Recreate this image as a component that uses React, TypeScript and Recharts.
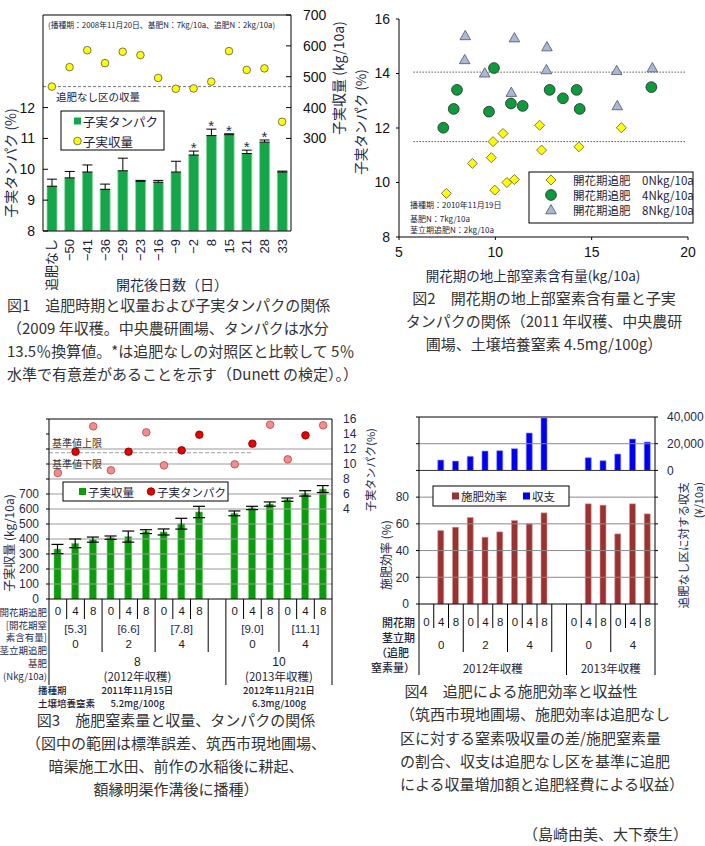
import React from 'react';
import {
  ComposedChart,
  ScatterChart,
  Bar,
  Line,
  Scatter,
  XAxis,
  YAxis,
  ReferenceLine,
  ErrorBar,
} from 'recharts';

const SANS = '"Liberation Sans", "Noto Sans CJK JP", sans-serif';
const JP = '"Noto Sans CJK JP", sans-serif';
const INK = '#1c2238';
const NAVY = '#1d2a4d';

// ---- 図1 data ----
const f1Cats = ['追肥なし', '−50', '−41', '−36', '−29', '−23', '−16', '−9', '−2', '8', '15', '21', '28', '33'];
const f1Protein = [9.45, 9.72, 9.91, 9.35, 9.95, 9.61, 9.58, 9.91, 10.46, 11.09, 11.12, 10.51, 10.88, 9.91];
const f1ProteinSe = [0.23, 0.21, 0.23, 0.17, 0.41, 0.03, 0.06, 0.35, 0.13, 0.21, 0.03, 0.11, 0.07, 0.03];
const f1Yield = [468, 531, 586, 544, 581, 570, 496, 461, 462, 484, 583, 522, 527, 354];
const f1Signif = [false, false, false, false, false, false, false, false, true, true, true, true, true, false];
const f1LeftTicks = [8, 9, 10, 11, 12];
const f1RightTicks = [300, 400, 500, 600, 700];

// ---- 図2 data ----
const n0X = [7.46, 8.81, 9.79, 9.88, 10.4, 9.97, 10.6, 10.99, 12.3, 12.4, 14.34, 16.54];
const n0Y = [9.6, 10.7, 10.91, 11.5, 11.8, 9.72, 10.0, 10.11, 12.1, 11.19, 11.31, 12.01];
const n4X = [7.3, 7.84, 8.01, 9.67, 9.93, 10.81, 11.42, 12.82, 13.51, 14.22, 14.38, 18.1];
const n4Y = [12.01, 12.7, 13.4, 12.6, 14.2, 12.9, 12.81, 13.4, 13.09, 13.4, 12.7, 13.5];
const n8X = [8.44, 8.41, 9.45, 10.99, 10.83, 12.68, 12.65, 16.3, 16.33, 18.15];
const n8Y = [15.38, 14.5, 14.01, 15.3, 13.3, 14.97, 14.13, 14.1, 12.81, 14.2];
const f2Upper = 14.05;
const f2Lower = 11.5;
const f2XTicks = [5, 10, 15, 20];
const f2YTicks = [8, 10, 12, 14, 16];

// ---- 図3 data (16 slots, slot 9 is the gap between years) ----
const topdressN = ['0', '4', '8', '0', '4', '8', '0', '4', '8', '', '0', '4', '8', '0', '4', '8'];
const f3Yield = [333, 371, 396, 409, 416, 449, 447, 502, 580, null, 571, 607, 633, 662, 704, 733];
const f3YieldSe = [31, 29, 17, 11, 37, 13, 20, 36, 38, null, 16, 11, 14, 11, 18, 23];
const f3Protein = [8.8, 11.64, 15.02, 9.16, 11.64, 14.22, 9.82, 11.82, 13.91, null, 9.96, 12.71, 15.24, 10.62, 13.82, 15.16];
const f3Upper = 14;
const f3Lower = 11.5;
const f3Grid = [100, 200, 300, 400, 500, 600, 700, 800, 900, 1000];
const f3LeftTicks = [0, 100, 200, 300, 400, 500, 600, 700, 800, 900, 1000, 1100, 1200];
const f3RightTicks = [4, 6, 8, 10, 12, 14, 16];
const groupStart = [0, 3, 6, 10, 13];
const f3NContent = ['[5.3]', '[6.6]', '[7.8]', '[9.0]', '[11.1]'];
const stemN = ['0', '2', '4', '0', '4'];
const f3Basal = ['8', '10'];
const f3Harvest = ['(2012年収穫)', '(2013年収穫)'];
const f3Sowing = ['2011年11月15日', '2012年11月21日'];
const f3SoilN = ['5.2mg/100g', '6.3mg/100g'];

// ---- 図4 data ----
const f4Eff = [null, 55, 57.5, 64.75, 50, 54, 62.5, 60, 68.25, null, null, 75, 74, 52.5, 75, 67.5];
const f4Balance = [null, 7750, 7000, 10500, 14500, 14750, 16250, 28000, 39250, null, null, 9500, 7250, 12250, 23500, 21250];
const f4Grid = [20, 40, 60, 80, 120];
const f4LeftTicks = [0, 20, 40, 60, 80, 100, 120, 140];
const f4RightTicks = [-100000, -80000, -60000, -40000, -20000, 0, 20000, 40000];
const f4Harvest = ['2012年収穫', '2013年収穫'];

const f1Data = f1Cats.map((cat, i) => ({
  cat,
  protein: f1Protein[i],
  se: [0, f1ProteinSe[i]],
  star: f1Signif[i] ? f1Protein[i] + f1ProteinSe[i] : null,
  yld: f1Yield[i],
}));
const f3Data = topdressN.map((n, i) => ({
  slot: i,
  yld: f3Yield[i],
  se: f3YieldSe[i],
  protein: f3Protein[i],
}));
const f4Data = topdressN.map((n, i) => ({ slot: i, eff: f4Eff[i], bal: f4Balance[i] }));
const pts = (xs: number[], ys: number[]) => xs.map((x, i) => ({ x, y: ys[i] }));

const SLOTS = 16;
const F3L = 49, F3W = 283, F4L = 419, F4W = 236;
const sx = (l: number, w: number, i: number) => l + ((i + 0.5) * w) / SLOTS;
const bx = (l: number, w: number, k: number) => l + (k * w) / SLOTS;

function Tx({ x, y, s = 12, a = 'start', r = 0, w = 400, c = INK, f = JP, children }: any) {
  return (
    <text
      x={x}
      y={y}
      fontSize={s}
      textAnchor={a}
      dominantBaseline="central"
      fontFamily={f}
      fontWeight={w}
      fill={c}
      transform={r ? `rotate(${r} ${x} ${y})` : undefined}
    >
      {children}
    </text>
  );
}

const VTick = (p: any) => (
  <text
    x={p.x}
    y={p.y}
    transform={`rotate(-90 ${p.x} ${p.y})`}
    textAnchor="end"
    dominantBaseline="central"
    fontSize={13}
    fontFamily={SANS}
    fill={INK}
  >
    {p.payload.value}
  </text>
);

const Star = (p: any) =>
  p.value == null ? (
    <g key={p.key} />
  ) : (
    <text key={p.key} x={p.cx} y={p.cy + 2} textAnchor="middle" fontSize={15} fontFamily={SANS} fill={NAVY}>
      *
    </text>
  );

const ProteinDot = (p: any) => {
  if (p.value == null) return <g key={p.key} />;
  const inRange = p.value >= f3Lower && p.value <= f3Upper;
  return (
    <circle
      key={p.key}
      cx={p.cx}
      cy={p.cy}
      r={3.8}
      fill={inRange ? '#e80000' : '#f48c8c'}
      stroke={inRange ? '#7a0000' : '#b04848'}
      strokeWidth={0.8}
    />
  );
};

const Diamond = (p: any) => (
  <polygon
    points={`${p.cx},${p.cy - 5} ${p.cx + 5},${p.cy} ${p.cx},${p.cy + 5} ${p.cx - 5},${p.cy}`}
    fill="#ffff00"
    stroke="#5a5a3a"
    strokeWidth={0.8}
  />
);
const Ball = (p: any) => <circle cx={p.cx} cy={p.cy} r={5.4} fill="#0c9a3c" stroke="#2b2b2b" strokeWidth={0.8} />;
const Tri = (p: any) => (
  <polygon
    points={`${p.cx},${p.cy - 5.5} ${p.cx + 5.3},${p.cy + 3.8} ${p.cx - 5.3},${p.cy + 3.8}`}
    fill="#a9b8d5"
    stroke="#4e5568"
    strokeWidth={0.8}
  />
);

function Table({ l, w, top, shortY, groupY, longY }: any) {
  const lines: any[] = [];
  for (let k = 0; k <= SLOTS; k++) {
    const y2 = k === 0 || k === 10 || k === 16 ? longY : [3, 6, 9, 13].includes(k) ? groupY : shortY;
    lines.push(<line key={k} x1={bx(l, w, k)} x2={bx(l, w, k)} y1={top} y2={y2} stroke="#000" strokeWidth={1} />);
  }
  return <g>{lines}</g>;
}

function Overlay() {
  const tick = { f: SANS, s: 11.5, a: 'middle', c: '#1a1a1a' };
  return (
    <svg width={705} height={846} style={{ position: 'absolute', left: 0, top: 0, pointerEvents: 'none' }}>
      {/* 図1 */}
      <Tx x={48} y={24} s={7.8}>(播種期：2008年11月20日、基肥N：7kg/10a、追肥N：2kg/10a)</Tx>
      <Tx x={56} y={96} s={10.5}>追肥なし区の収量</Tx>
      <rect x={61} y={111} width={103} height={39} fill="#fff" stroke="#000" />
      <rect x={74} y={117.5} width={7} height={7} fill="#16a64a" />
      <Tx x={83} y={121} s={12.5}>子実タンパク</Tx>
      <circle cx={77.5} cy={141} r={3.8} fill="#ffff00" stroke="#555" strokeWidth={0.8} />
      <Tx x={83} y={141} s={12.5}>子実収量</Tx>
      <Tx x={10} y={163} s={14} a="middle" r={-90} c={NAVY}>子実タンパク (%)</Tx>
      <Tx x={338} y={78} s={14} a="middle" r={-90} c={NAVY}>子実収量 (kg/10a)</Tx>
      <Tx x={172} y={284} s={14} a="middle" c={NAVY}>開花後日数（日）</Tx>

      {/* 図2 */}
      <Tx x={360} y={122} s={13.5} a="middle" r={-90} c={NAVY}>子実タンパク (%)</Tx>
      <Tx x={533} y={275} s={13.5} a="middle" c={NAVY}>開花期の地上部窒素含有量(kg/10a)</Tx>
      <rect x={529} y={172} width={164} height={51} fill="#fff" stroke="#000" />
      <Diamond cx={551} cy={180} />
      <Ball cx={551} cy={195} />
      <Tri cx={551} cy={210} />
      <Tx x={573} y={180} s={11.5}>開花期追肥　0Nkg/10a</Tx>
      <Tx x={573} y={195} s={11.5}>開花期追肥　4Nkg/10a</Tx>
      <Tx x={573} y={210} s={11.5}>開花期追肥　8Nkg/10a</Tx>
      <Tx x={410} y={204} s={8}>播種期：2010年11月19日</Tx>
      <Tx x={410} y={218} s={8}>基肥N：7kg/10a</Tx>
      <Tx x={410} y={229} s={8}>茎立期追肥N：2kg/10a</Tx>

      {/* 図3 */}
      <Tx x={52} y={442} s={10} c="#333">基準値上限</Tx>
      <Tx x={52} y={463} s={10} c="#333">基準値下限</Tx>
      <rect x={63} y={482} width={165} height={19} fill="#fff" stroke="#000" />
      <rect x={79} y={488} width={7} height={7} fill="#0a9c0a" />
      <Tx x={88} y={491.5} s={11.5}>子実収量</Tx>
      <circle cx={151} cy={491.5} r={3.8} fill="#e80000" stroke="#7a0000" strokeWidth={0.8} />
      <Tx x={157} y={491.5} s={11.5}>子実タンパク</Tx>
      <Tx x={8} y={543} s={12} a="middle" r={-90} c={NAVY}>子実収量 (kg/10a)</Tx>
      <Tx x={370} y={470} s={11} a="middle" r={-90} c={NAVY}>子実タンパク(%)</Tx>
      <Table l={F3L} w={F3W} top={599} shortY={619} groupY={652} longY={685} />
      {topdressN.map((n, i) => (
        <Tx key={'a' + i} x={sx(F3L, F3W, i)} y={611} {...tick}>{n}</Tx>
      ))}
      {groupStart.map((g, j) => (
        <Tx key={'b' + j} x={sx(F3L, F3W, g + 1)} y={629} {...tick} c={NAVY}>{f3NContent[j]}</Tx>
      ))}
      {groupStart.map((g, j) => (
        <Tx key={'c' + j} x={sx(F3L, F3W, g + 1)} y={644} {...tick}>{stemN[j]}</Tx>
      ))}
      {[0, 1].map((j) => {
        const cx = (bx(F3L, F3W, j ? 10 : 0) + bx(F3L, F3W, j ? 16 : 10)) / 2;
        return (
          <g key={'d' + j}>
            <Tx x={cx} y={662} {...tick} s={12}>{f3Basal[j]}</Tx>
            <Tx x={cx} y={676} s={11.5} a="middle">{f3Harvest[j]}</Tx>
            <Tx x={cx} y={690} s={9.5} a="middle" w={500}>{f3Sowing[j]}</Tx>
            <Tx x={cx} y={703} s={9.5} a="middle" w={500}>{f3SoilN[j]}</Tx>
          </g>
        );
      })}
      <Tx x={38} y={690} s={9.5} w={500}>播種期</Tx>
      <Tx x={38} y={703} s={9.5} w={500}>土壌培養窒素</Tx>
      <Tx x={47} y={612} s={9.5} a="end" c={NAVY}>開花期追肥</Tx>
      <Tx x={47} y={624.5} s={9.5} a="end" c={NAVY}>[開花期窒</Tx>
      <Tx x={47} y={637} s={9.5} a="end" c={NAVY}>素含有量]</Tx>
      <Tx x={47} y={649.5} s={9.5} a="end" c={NAVY}>茎立期追肥</Tx>
      <Tx x={47} y={663} s={9.5} a="end" c={NAVY}>基肥</Tx>
      <Tx x={47} y={676} s={9.5} a="end" c={NAVY}>(Nkg/10a)</Tx>

      {/* 図4 */}
      <rect x={433} y={486} width={136} height={20} fill="#fff" stroke="#000" />
      <rect x={452} y={492.5} width={7} height={7} fill="#9b3232" />
      <Tx x={461} y={496} s={11.5}>施肥効率</Tx>
      <rect x={523} y={492.5} width={7} height={7} fill="#0000f0" />
      <Tx x={532} y={496} s={11.5}>収支</Tx>
      <Tx x={385} y={555} s={12} a="middle" r={-90} c={NAVY}>施肥効率 (%)</Tx>
      <Tx x={683} y={482} s={11.5} a="end" r={-90} c={NAVY}>追肥なし区に対する収支</Tx>
      <Tx x={698} y={482} s={11} a="end" r={-90} c={NAVY}>(¥/10a)</Tx>
      <Table l={F4L} w={F4W} top={604} shortY={628} groupY={652} longY={675} />
      {topdressN.map((n, i) => (
        <Tx key={'e' + i} x={sx(F4L, F4W, i)} y={622} {...tick}>{n}</Tx>
      ))}
      {groupStart.map((g, j) => (
        <Tx key={'f' + j} x={sx(F4L, F4W, g + 1)} y={645} {...tick}>{stemN[j]}</Tx>
      ))}
      {[0, 1].map((j) => (
        <Tx key={'g' + j} x={(bx(F4L, F4W, j ? 10 : 0) + bx(F4L, F4W, j ? 16 : 10)) / 2} y={668} s={11.5} a="middle">
          {f4Harvest[j]}
        </Tx>
      ))}
      <Tx x={415} y={622} s={11} a="end" w={500}>開花期</Tx>
      <Tx x={415} y={637} s={11} a="end" w={500}>茎立期</Tx>
      <Tx x={409} y={652} s={11} a="end" w={500}>（追肥</Tx>
      <Tx x={415} y={667} s={11} a="end" w={500}>窒素量）</Tx>

      {/* captions */}
      <Tx x={7} y={304} s={15} c="#333">図1　追肥時期と収量および子実タンパクの関係</Tx>
      <Tx x={7} y={327} s={15} c="#333">（2009 年収穫。中央農研圃場、タンパクは水分</Tx>
      <Tx x={7} y={350} s={15} c="#333">13.5％換算値。*は追肥なしの対照区と比較して 5％</Tx>
      <Tx x={7} y={373} s={15} c="#333">水準で有意差があることを示す（Dunett の検定）。）</Tx>
      <Tx x={544} y={297} s={15} a="middle" c="#333">図2　開花期の地上部窒素含有量と子実</Tx>
      <Tx x={544} y={320} s={15} a="middle" c="#333">タンパクの関係（2011 年収穫、中央農研</Tx>
      <Tx x={544} y={343} s={15} a="middle" c="#333">圃場、土壌培養窒素 4.5mg/100g）</Tx>
      <Tx x={176} y={719} s={15} a="middle" c="#333">図3　施肥窒素量と収量、タンパクの関係</Tx>
      <Tx x={176} y={742} s={15} a="middle" c="#333">（図中の範囲は標準誤差、筑西市現地圃場、</Tx>
      <Tx x={176} y={765} s={15} a="middle" c="#333">暗渠施工水田、前作の水稲後に耕起、</Tx>
      <Tx x={176} y={788} s={15} a="middle" c="#333">額縁明渠作溝後に播種）</Tx>
      <Tx x={521} y={690} s={15} a="middle" c="#333">図4　追肥による施肥効率と収益性</Tx>
      <Tx x={400} y={713} s={15} c="#333">（筑西市現地圃場、施肥効率は追肥なし</Tx>
      <Tx x={400} y={737} s={15} c="#333">区に対する窒素吸収量の差/施肥窒素量</Tx>
      <Tx x={400} y={760} s={15} c="#333">の割合、収支は追肥なし区を基準に追肥</Tx>
      <Tx x={400} y={783} s={15} c="#333">による収量増加額と追肥経費による収益）</Tx>
      <Tx x={688} y={833} s={15} a="end" c="#333">（島崎由美、大下泰生）</Tx>
    </svg>
  );
}

const axisTick = (size: number, fill = '#111') => ({ fontSize: size, fill, fontFamily: SANS });

export default function App() {
  return (
    <div style={{ position: 'absolute', left: 0, top: 0, width: 705, height: 846, background: '#fff', overflow: 'hidden', fontFamily: JP }}>
      {/* 図1 */}
      <div style={{ position: 'absolute', left: 0, top: 0 }}>
        <ComposedChart width={350} height={290} data={f1Data} margin={{ top: 15, right: 0, bottom: 0, left: 0 }}>
          <XAxis dataKey="cat" height={59} interval={0} tickLine={false} tickSize={0} tickMargin={8} axisLine={{ stroke: '#000' }} tick={<VTick />} />
          <YAxis yAxisId="l" width={43} domain={[8, 15]} allowDataOverflow ticks={f1LeftTicks} tickSize={-5} tickMargin={13}
            axisLine={{ stroke: '#000' }} tickLine={{ stroke: '#000' }} tick={axisTick(14)} />
          <YAxis yAxisId="r" orientation="right" width={59} domain={[0, 700]} allowDataOverflow ticks={f1RightTicks} tickSize={-5} tickMargin={17}
            axisLine={{ stroke: '#000' }} tickLine={{ stroke: '#000' }} tick={axisTick(14)} />
          <ReferenceLine yAxisId="l" y={15} stroke="#000" />
          <ReferenceLine yAxisId="r" y={f1Yield[0]} stroke="#777" strokeDasharray="3 2" />
          <Bar yAxisId="l" dataKey="protein" barSize={10} fill="#16a64a" stroke="#8fd5a3" strokeWidth={0.8} isAnimationActive={false}>
            <ErrorBar dataKey="se" width={5} stroke="#000" strokeWidth={1} />
          </Bar>
          <Line yAxisId="l" dataKey="star" stroke="none" dot={Star} activeDot={false} isAnimationActive={false} />
          <Line yAxisId="r" dataKey="yld" stroke="none" dot={{ r: 3.8, fill: '#ffff00', stroke: '#555', strokeWidth: 0.8 }}
            activeDot={false} isAnimationActive={false} />
        </ComposedChart>
      </div>

      {/* 図2 */}
      <div style={{ position: 'absolute', left: 350, top: 0 }}>
        <ScatterChart width={355} height={290} margin={{ top: 19, right: 17, bottom: 0, left: 0 }}>
          <XAxis type="number" dataKey="x" domain={[5, 20]} allowDataOverflow ticks={f2XTicks} height={53} tickSize={3} tickMargin={7}
            axisLine={{ stroke: '#000' }} tickLine={{ stroke: '#000' }} tick={axisTick(14)} />
          <YAxis type="number" dataKey="y" domain={[8, 16]} allowDataOverflow ticks={f2YTicks} width={49} tickSize={3} tickMargin={6}
            axisLine={{ stroke: '#000' }} tickLine={{ stroke: '#000' }} tick={axisTick(14)} />
          <ReferenceLine segment={[{ x: 5.75, y: f2Upper }, { x: 19.85, y: f2Upper }]} stroke="#555" strokeDasharray="1.5 1.5" />
          <ReferenceLine segment={[{ x: 5.75, y: f2Lower }, { x: 19.85, y: f2Lower }]} stroke="#555" strokeDasharray="1.5 1.5" />
          <Scatter data={pts(n8X, n8Y)} shape={Tri} isAnimationActive={false} />
          <Scatter data={pts(n4X, n4Y)} shape={Ball} isAnimationActive={false} />
          <Scatter data={pts(n0X, n0Y)} shape={Diamond} isAnimationActive={false} />
        </ScatterChart>
      </div>

      {/* 図3 */}
      <div style={{ position: 'absolute', left: 0, top: 410 }}>
        <ComposedChart width={370} height={200} data={f3Data} margin={{ top: 9, right: 0, bottom: 11, left: 0 }}>
          <XAxis dataKey="slot" hide />
          <XAxis xAxisId="n" type="number" domain={[0, 16]} allowDataOverflow hide />
          <YAxis yAxisId="l" width={49} domain={[0, 1200]} allowDataOverflow ticks={f3LeftTicks} interval={0}
            tickFormatter={(v: number) => (v <= 700 ? String(v) : '')} tickSize={3} tickMargin={7}
            axisLine={{ stroke: '#000' }} tickLine={{ stroke: '#000' }} tick={axisTick(12, NAVY)} />
          <YAxis yAxisId="r" orientation="right" width={38} domain={[-8, 16]} allowDataOverflow ticks={f3RightTicks} interval={0}
            tickLine={false} tickSize={0} tickMargin={11} axisLine={{ stroke: '#000' }} tick={axisTick(12, NAVY)} />
          {f3Grid.map((g) => (
            <ReferenceLine key={g} yAxisId="l" y={g} stroke="#9a9a9a" />
          ))}
          <ReferenceLine yAxisId="l" y={1200} stroke="#000" />
          <ReferenceLine yAxisId="l" y={0} stroke="#000" />
          <ReferenceLine xAxisId="n" yAxisId="r" segment={[{ x: 0, y: f3Upper }, { x: 16, y: f3Upper }]} stroke="#8a8a8a" strokeDasharray="4 2" />
          <ReferenceLine xAxisId="n" yAxisId="r" segment={[{ x: 0, y: f3Lower }, { x: 10.8, y: f3Lower }]} stroke="#a0a0a0" strokeDasharray="4 2" />
          <ReferenceLine xAxisId="n" yAxisId="r" segment={[{ x: 10.8, y: f3Lower }, { x: 16, y: f3Lower }]} stroke="#000" strokeDasharray="3 2" />
          <Bar yAxisId="l" dataKey="yld" barSize={7} fill="#0a9c0a" stroke="#6fcf6f" strokeWidth={0.6} isAnimationActive={false}>
            <ErrorBar dataKey="se" width={6} stroke="#000" strokeWidth={1.2} />
          </Bar>
          <Line yAxisId="r" dataKey="protein" stroke="none" dot={ProteinDot} activeDot={false} isAnimationActive={false} />
        </ComposedChart>
      </div>

      {/* 図4 */}
      <div style={{ position: 'absolute', left: 350, top: 405 }}>
        <ComposedChart width={355} height={210} data={f4Data} margin={{ top: 12, right: 0, bottom: 11, left: 0 }} barGap={-6}>
          <XAxis dataKey="slot" hide />
          <YAxis yAxisId="l" width={69} domain={[0, 140]} allowDataOverflow ticks={f4LeftTicks} interval={0}
            tickFormatter={(v: number) => (v <= 80 ? String(v) : '')} tickSize={3} tickMargin={7}
            axisLine={{ stroke: '#000' }} tickLine={{ stroke: '#000' }} tick={axisTick(12, NAVY)} />
          <YAxis yAxisId="r" orientation="right" width={50} domain={[-100000, 40000]} allowDataOverflow ticks={f4RightTicks} interval={0}
            tickFormatter={(v: number) => (v >= 0 ? v.toLocaleString('en-US') : '')} tickSize={3} tickMargin={9}
            axisLine={{ stroke: '#000' }} tickLine={{ stroke: '#000' }} tick={axisTick(12, NAVY)} />
          {f4Grid.map((g) => (
            <ReferenceLine key={g} yAxisId="l" y={g} stroke="#8a8a8a" />
          ))}
          <ReferenceLine yAxisId="r" y={0} stroke="#333" />
          <ReferenceLine yAxisId="l" y={140} stroke="#000" />
          <ReferenceLine yAxisId="l" y={0} stroke="#000" />
          <Bar yAxisId="l" dataKey="eff" barSize={6} fill="#9b3232" stroke="#d29a9a" strokeWidth={0.6} isAnimationActive={false} />
          <Bar yAxisId="r" dataKey="bal" barSize={6} fill="#0000f0" stroke="#8080ff" strokeWidth={0.6} isAnimationActive={false} />
        </ComposedChart>
      </div>

      <Overlay />
    </div>
  );
}
